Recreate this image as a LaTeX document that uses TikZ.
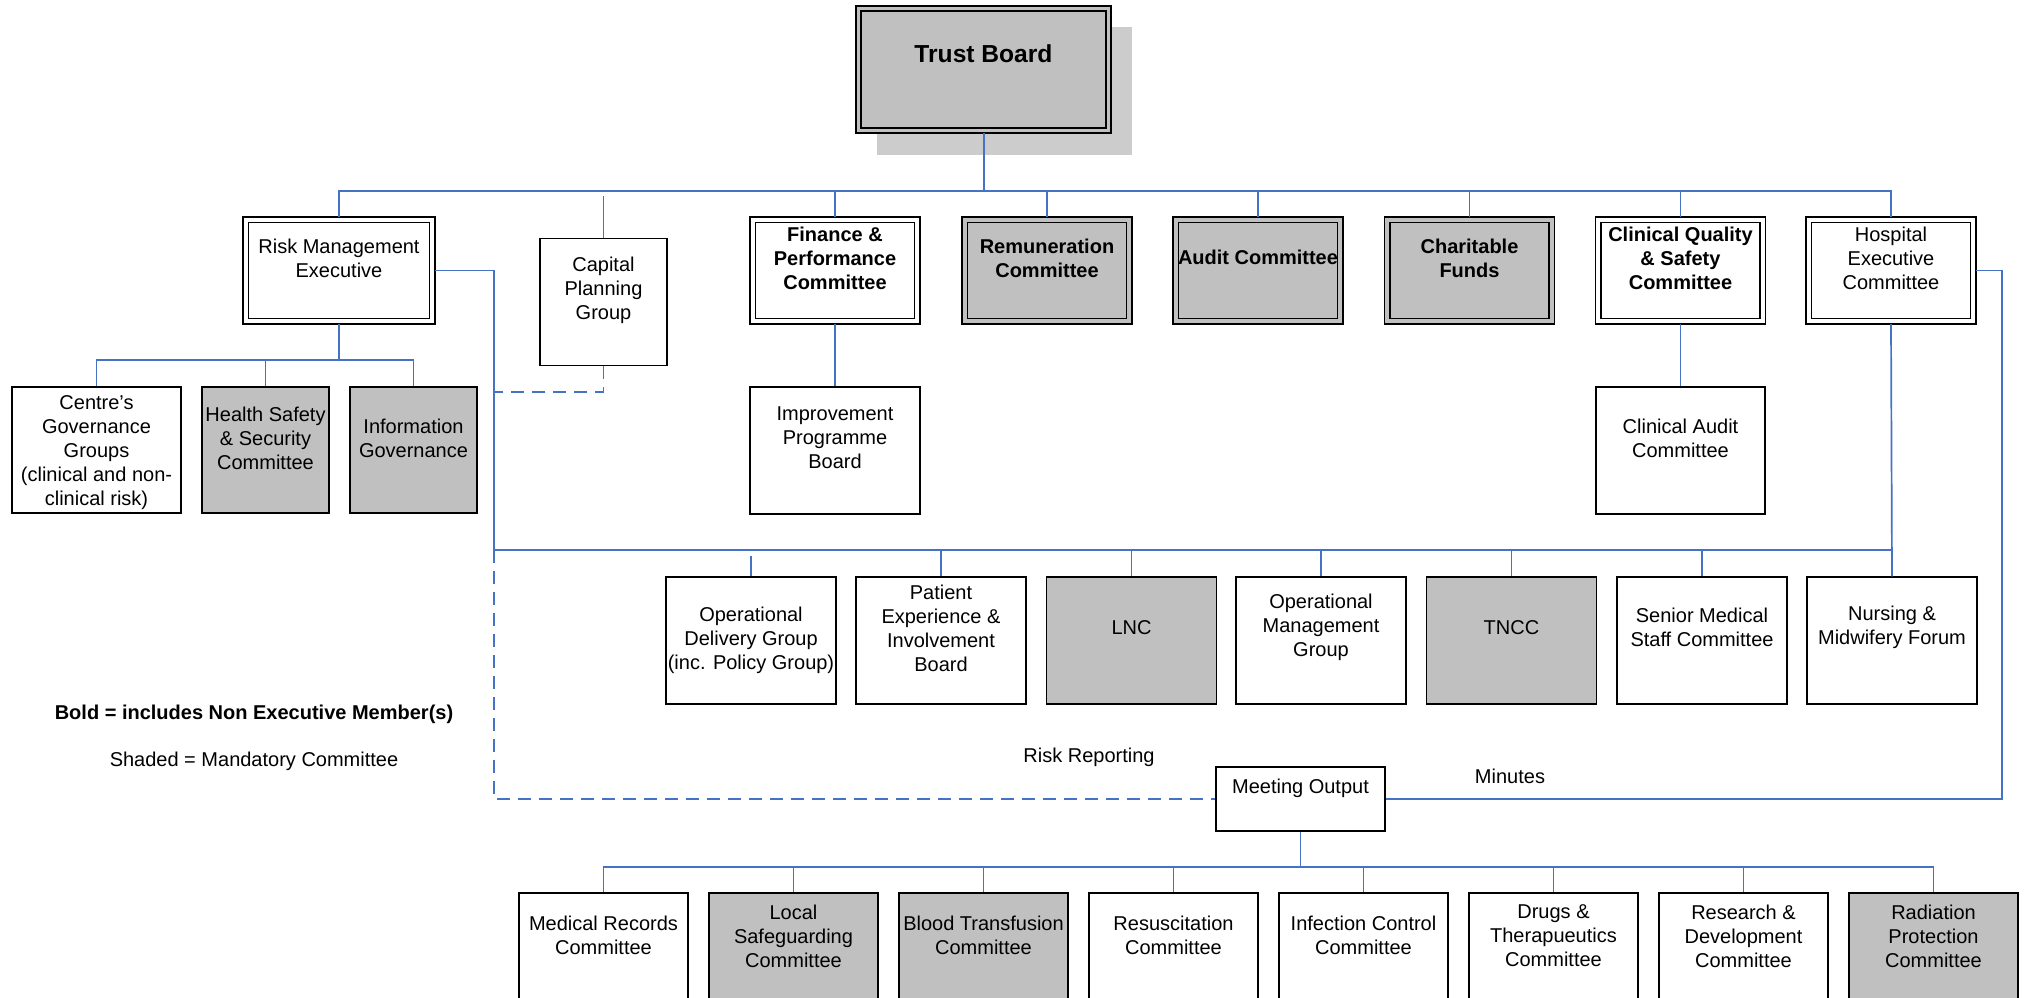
\documentclass[tikz,border=0pt]{standalone}
\usepackage{fontspec}
\setmainfont{Liberation Sans}
\definecolor{lineblue}{RGB}{68,114,196}
\definecolor{boxgray}{RGB}{192,192,192}
\definecolor{shadowgray}{RGB}{204,204,204}
\tikzset{
  sbox/.style={draw, line width=0.75pt, inner sep=0pt, minimum width=84.5pt, minimum height=63.5pt},
  narrowbox/.style={sbox, minimum width=63.5pt},
  shaded/.style={fill=boxgray},
  dbox/.style={draw, line width=0.7pt, double=white, double distance=2pt, outer sep=1.35pt, inner sep=0pt, minimum width=82.3pt, minimum height=50.8pt},
  dshaded/.style={dbox, fill=boxgray, double=boxgray},
  txt/.style={align=center, inner sep=0pt, font=\fontsize{10}{12}\selectfont},
  btxt/.style={txt, font=\fontsize{10}{12}\selectfont\bfseries},
  conn/.style={draw=lineblue, line width=0.85pt},
  dconn/.style={conn, dash pattern=on 6.5pt off 4pt},
}
\begin{document}
\begin{tikzpicture}[x=0.5pt, y=-0.5pt]
\clip (0,0) rectangle (2026,997);
\fill[white] (0,0) rectangle (2026,997);

% Trust Board
\fill[shadowgray] (877,27) rectangle (1132,155);
\node[dshaded, line width=1pt, double distance=1.6pt, outer sep=1.3pt, minimum width=124.9pt, minimum height=60.9pt] (tb) at (983.5,69.5) {};
\node[txt, font=\fontsize{12.3}{14}\selectfont\bfseries] (tbt) at (983.5,54) {Trust Board};

% Top row
\node[dbox, minimum width=93.3pt] (rme) at (339,270.5) {};
\node[narrowbox] (cap) at (603.5,302) {};
\node[dbox] (fin) at (835,270.5) {};
\node[dshaded] (rem) at (1047,270.5) {};
\node[dshaded] (aud) at (1258,270.5) {};
\node[dshaded] (cha) at (1469.5,270.5) {};
\node[dbox] (cqs) at (1680.5,270.5) {};
\node[dbox] (hec) at (1891,270.5) {};

\node[txt] (rmet) at (339,258) {Risk Management\\Executive};
\node[txt] (capt) at (603.5,290) {Capital\\Planning\\Group};
\node[btxt] (fint) at (835,258) {Finance \&\\Performance\\Committee};
\node[btxt] (remt) at (1047,258) {Remuneration\\Committee};
\node[btxt] (audt) at (1258,257) {Audit Committee};
\node[btxt] (chat) at (1469.5,258) {Charitable\\Funds};
\node[btxt] (cqst) at (1680.5,258) {Clinical Quality\\\& Safety\\Committee};
\node[txt] (hect) at (1891,258) {Hospital\\Executive\\Committee};

% Second row
\node[sbox, minimum height=63pt] (cgg) at (96.5,450) {};
\node[narrowbox, shaded, minimum height=63pt] (hss) at (265.5,450) {};
\node[narrowbox, shaded, minimum height=63pt] (igv) at (413.5,450) {};
\node[sbox, minimum width=85pt] (ipb) at (835,450.5) {};
\node[sbox] (cac) at (1680.5,450.5) {};

\node[txt] (cggt) at (96.5,453) {Centre’s\\Governance\\Groups\\(clinical and non-\\clinical risk)};
\node[txt] (hsst) at (265.5,438) {Health Safety\\\& Security\\Committee};
\node[txt] (igvt) at (413.5,438) {Information\\Governance};
\node[txt] (ipbt) at (835,438) {Improvement\\Programme\\Board};
\node[txt] (cact) at (1680.5,438) {Clinical Audit\\Committee};

% Middle row
\node[sbox, minimum width=85pt] (odg) at (751,640.5) {};
\node[sbox, minimum width=85pt] (pei) at (941,640.5) {};
\node[sbox, shaded, minimum width=85pt] (lnc) at (1131.5,640.5) {};
\node[sbox, minimum width=85pt] (omg) at (1321,640.5) {};
\node[sbox, shaded, minimum width=85pt] (tncc) at (1511.5,640.5) {};
\node[sbox, minimum width=85pt] (smsc) at (1702,640.5) {};
\node[sbox, minimum width=85pt] (nmf) at (1892,640.5) {};

\node[txt] (odgt) at (751,640.5) {Operational\\Delivery Group\\(inc. Policy Group)};
\node[txt] (peit) at (941,628.5) {Patient\\Experience \&\\Involvement\\Board};
\node[txt] (lnct) at (1131.5,627.5) {LNC};
\node[txt] (omgt) at (1321,627.5) {Operational\\Management\\Group};
\node[txt] (tncct) at (1511.5,627.5) {TNCC};
\node[txt] (smsct) at (1702,627.5) {Senior Medical\\Staff Committee};
\node[txt] (nmft) at (1892,627.5) {Nursing \&\\Midwifery Forum};

% Meeting output
\node[sbox, minimum height=32pt] (mo) at (1300.5,799) {};
\node[txt] (mot) at (1300.5,788) {Meeting Output};

% Bottom row
\node[sbox] (mrc) at (603.5,956.5) {};
\node[sbox, shaded] (lsc) at (793.5,956.5) {};
\node[sbox, shaded] (btc) at (983.5,956.5) {};
\node[sbox] (rsc) at (1173.5,956.5) {};
\node[sbox] (icc) at (1363.5,956.5) {};
\node[sbox] (dtc) at (1553.5,956.5) {};
\node[sbox] (rdc) at (1743.5,956.5) {};
\node[sbox, shaded] (rpc) at (1933.5,956.5) {};

\node[txt] (mrct) at (603.5,935) {Medical Records\\Committee};
\node[txt] (lsct) at (793.5,936) {Local\\Safeguarding\\Committee};
\node[txt] (btct) at (983.5,935) {Blood Transfusion\\Committee};
\node[txt] (rsct) at (1173.5,935) {Resuscitation\\Committee};
\node[txt] (icct) at (1363.5,935) {Infection Control\\Committee};
\node[txt] (dtct) at (1553.5,936) {Drugs \&\\Therapueutics\\Committee};
\node[txt] (rdct) at (1743.5,936) {Research \&\\Development\\Committee};
\node[txt] (rpct) at (1933.5,936) {Radiation\\Protection\\Committee};

% Labels and legend
\node[txt] (riskrep) at (1089,757) {Risk Reporting};
\node[txt] (minutes) at (1510,776) {Minutes};
\node[btxt] (legbold) at (254,714) {Bold = includes Non Executive Member(s)};
\node[txt] (legshade) at (254,761) {Shaded = Mandatory Committee};

% Connectors: top level
\coordinate (bus1) at (983,191);
\draw[conn, line width=1pt] (tb.south) -- (tb.south |- bus1);
\draw[conn] (rme.north) |- (hec.north |- bus1) -- (hec.north);
\draw[conn, line width=1pt] (tb.south |- bus1) -- (hec.north |- bus1);
\foreach \n in {fin,rem,aud,cha,cqs} \draw[conn] (\n.north) -- (\n.north |- bus1);
\coordinate (capgap) at (603.5,196);
\draw[conn] (cap.north) -- (capgap);

% Risk management children
\coordinate (bus2) at (339,360);
\draw[conn] (rme.south) -- (rme.south |- bus2);
\draw[conn] (cgg.north) |- (igv.north |- bus2) -- (igv.north);
\draw[conn] (hss.north) -- (hss.north |- bus2);

\draw[conn] (fin.south) -- (ipb.north);
\draw[conn] (cqs.south) -- (cac.north);

% Middle bus
\coordinate (riskx) at (494,550);
\draw[conn] (rme.east) -| (riskx);
\draw[conn, line width=1pt] (riskx) -- (nmf.north |- riskx);
\draw[conn] (hec.south) -- (nmf.north);
\foreach \n in {pei,lnc,omg,tncc,smsc} \draw[conn] (\n.north) -- (\n.north |- riskx);
\coordinate (odggap) at (751,556);
\draw[conn] (odg.north) -- (odggap);

% Dashed risk reporting
\draw[dconn] (riskx) |- (mo.west);
\coordinate (capdash) at (494,392);
\draw[dconn] (cap.south) |- (capdash);

% Minutes
\coordinate (minx) at (2002,500);
\draw[conn] (mo.east) -| (minx |- hec.east) -- (hec.east);

% Bottom bus
\coordinate (bus3) at (1300.5,867);
\draw[conn] (mo.south) -- (mo.south |- bus3);
\draw[conn] (mrc.north) |- (rpc.north |- bus3) -- (rpc.north);
\foreach \n in {lsc,btc,rsc,icc,dtc,rdc} \draw[conn] (\n.north) -- (\n.north |- bus3);
\end{tikzpicture}
\end{document}
